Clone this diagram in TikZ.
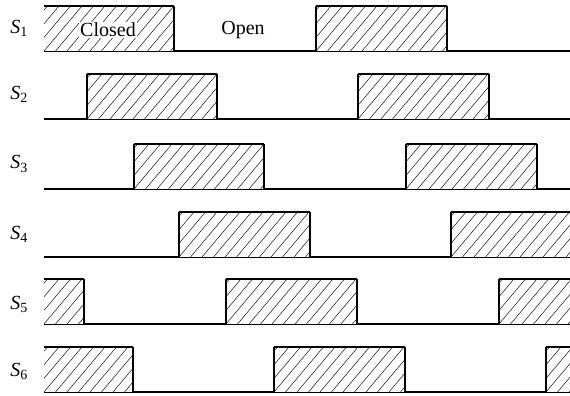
\documentclass[tikz,border=0pt]{standalone}
\usepackage{fontspec}
\setmainfont{Liberation Serif}
\begin{document}
\begin{tikzpicture}[x=1pt,y=-1pt,
  wave/.style={line width=1.4pt},
  lowedge/.style={line width=0.7pt},
  hatchline/.style={line width=0.45pt},
  lab/.style={font=\fontsize{20}{24}\selectfont, inner sep=0pt},
  txt/.style={font=\fontsize{20}{24}\selectfont, inner sep=1pt, fill=white}]
\useasboundingbox (0,0) rectangle (570,396);
\newcommand\hpulse[3]{%
  \begin{scope}
    \clip (#2,#1) rectangle (#3,#1+45);
    \foreach \k in {-4,...,14} \draw[hatchline] ({#2+\k*11.5},{#1+45}) -- ++(38,-45);
  \end{scope}
  \draw[wave] (#2,#1) -- (#3,#1);
  \draw[lowedge] (#2,#1+45) -- (#3,#1+45);
}
% Row 1
\hpulse{6}{44}{174}
\hpulse{6}{316}{447}
\draw[wave] (174,6) -- (174,51) -- (316,51) -- (316,6);
\draw[wave] (447,6) -- (447,51) -- (570,51);
% Row 2
\hpulse{74}{87}{217}
\hpulse{74}{358}{489}
\draw[wave] (44,119) -- (87,119) -- (87,74);
\draw[wave] (217,74) -- (217,119) -- (358,119) -- (358,74);
\draw[wave] (489,74) -- (489,119) -- (570,119);
% Row 3
\hpulse{144}{134}{264}
\hpulse{144}{406}{537}
\draw[wave] (44,189) -- (134,189) -- (134,144);
\draw[wave] (264,144) -- (264,189) -- (406,189) -- (406,144);
\draw[wave] (537,144) -- (537,189) -- (570,189);
% Row 4
\hpulse{212}{179}{310}
\hpulse{212}{451}{570}
\draw[wave] (44,257) -- (179,257) -- (179,212);
\draw[wave] (310,212) -- (310,257) -- (451,257) -- (451,212);
% Row 5
\hpulse{279}{44}{84}
\hpulse{279}{226}{357}
\hpulse{279}{499}{570}
\draw[wave] (84,279) -- (84,324) -- (226,324) -- (226,279);
\draw[wave] (357,279) -- (357,324) -- (499,324) -- (499,279);
% Row 6
\hpulse{347}{44}{133}
\hpulse{347}{274}{405}
\hpulse{347}{546}{570}
\draw[wave] (133,347) -- (133,392) -- (274,392) -- (274,347);
\draw[wave] (405,347) -- (405,392) -- (546,392) -- (546,347);
% Labels
\node[lab] (s1) at (19,28) {\textit{S}\textsubscript{1}};
\node[lab] (s2) at (19,94) {\textit{S}\textsubscript{2}};
\node[lab] (s3) at (19,164) {\textit{S}\textsubscript{3}};
\node[lab] (s4) at (19,234) {\textit{S}\textsubscript{4}};
\node[lab] (s5) at (19,304) {\textit{S}\textsubscript{5}};
\node[lab] (s6) at (19,371) {\textit{S}\textsubscript{6}};
\node[txt] (closed) at (108,30) {Closed};
\node[lab] (open) at (243,30) {Open};
\end{tikzpicture}
\end{document}
